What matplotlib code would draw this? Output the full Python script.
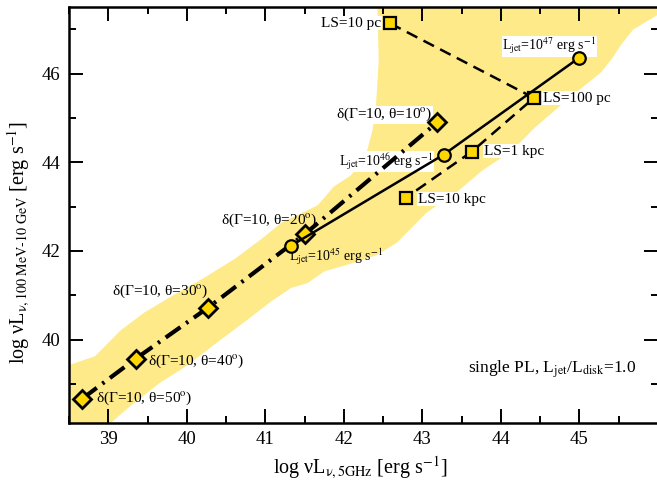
import matplotlib
matplotlib.use("Agg")
import matplotlib.pyplot as plt
from matplotlib.patches import Polygon

plt.rcParams["font.family"] = ["Liberation Serif", "DejaVu Serif"]
plt.rcParams["mathtext.fontset"] = "stix"
plt.rcParams["lines.scale_dashes"] = False

# yellow region covered by the model runs (outline in log L units)
cloud_x = [38.40, 38.40, 38.85, 39.18, 39.48, 39.85, 40.23, 40.64, 40.98, 41.23,
           41.40, 41.69, 41.90, 42.11, 42.30, 42.40, 42.44, 42.48, 42.46, 46.00,
           46.00, 45.66, 45.50, 45.38, 45.25, 45.04, 44.82, 44.66, 44.41, 44.12,
           43.74, 43.44, 43.03, 42.65, 42.40, 42.02, 41.74, 41.52, 41.31, 41.06,
           40.73, 40.36, 39.98, 39.64, 39.23, 38.90]
cloud_y = [38.00, 39.30, 39.57, 40.16, 40.56, 40.95, 41.33, 41.78, 42.23, 42.59,
           42.73, 42.98, 43.41, 43.65, 44.04, 44.71, 45.17, 46.29, 47.60, 47.60,
           47.40, 47.04, 46.68, 46.36, 46.07, 45.77, 45.46, 45.21, 44.83, 44.31,
           43.86, 43.41, 42.91, 42.23, 41.96, 41.74, 41.60, 41.33, 41.22, 40.92,
           40.47, 39.98, 39.46, 39.08, 38.51, 38.00]

# jet power sequence
ljet_x = [41.33, 43.27, 45.00]
ljet_y = [42.12, 44.17, 46.36]
ljet_lab = ["45", "46", "47"]

# linear size sequence
ls_x = [42.59, 44.42, 43.63, 42.79]
ls_y = [47.13, 45.45, 44.24, 43.20]
ls_lab = ["LS=10 pc", "LS=100 pc", "LS=1 kpc", "LS=10 kpc"]

# Doppler factor sequence, Gamma=10
dop_x = [38.67, 39.35, 40.27, 41.51, 43.19]
dop_y = [38.67, 39.57, 40.72, 42.39, 44.90]
dop_theta = [50, 40, 30, 20, 10]

fig = plt.figure(figsize=(6.57, 4.82), dpi=100)
ax = fig.add_axes([0.105, 0.1224, 0.8965, 0.8631])

ax.add_patch(Polygon(list(zip(cloud_x, cloud_y)), closed=True, fc="#FEEA88",
                     ec="#FEEA88", lw=4, joinstyle="round", zorder=1))

ax.plot(dop_x, dop_y, color="black", lw=3.0, dashes=(13, 5, 1.8, 5),
        marker="D", ms=9, mfc="#FFD700", mec="black", mew=2, zorder=3)
ax.plot(ls_x, ls_y, color="black", lw=1.8, dashes=(8.5, 5),
        marker="s", ms=8, mfc="#FFD700", mec="black", mew=1.6, zorder=3)
ax.plot(ljet_x, ljet_y, color="black", lw=1.8,
        marker="o", ms=9, mfc="#FFD700", mec="black", mew=1.6, zorder=4)

box = dict(fc="white", ec="none", pad=0.3)
fs = 11
fj = 10

# LS labels
ax.text(42.48, 47.13, ls_lab[0], ha="right", va="center", fontsize=fs, bbox=box, zorder=2)
ax.text(44.53, 45.44, ls_lab[1], ha="left", va="center", fontsize=fs, bbox=box, zorder=2)
ax.text(43.78, 44.25, ls_lab[2], ha="left", va="center", fontsize=fs, bbox=box, zorder=2)
ax.text(42.94, 43.17, ls_lab[3], ha="left", va="center", fontsize=fs, bbox=box, zorder=2)

# jet power labels
def ljet_text(p):
    return r"L$_{\rm jet}$=10$^{%s}$ erg s$^{-1}$" % p

ax.text(44.02, 46.62, ljet_text(ljet_lab[2]), ha="left", va="center", fontsize=fj, bbox=box, zorder=2)
ax.text(41.94, 44.02, ljet_text(ljet_lab[1]), ha="left", va="center", fontsize=fj, bbox=box, zorder=2)
ax.text(41.30, 41.86, ljet_text(ljet_lab[0]), ha="left", va="center", fontsize=fj, zorder=2)

# Doppler factor labels
def dop_text(t):
    return "δ(Γ=10, θ=%d$^{\\rm o}$)" % t

ax.text(43.13, 45.07, dop_text(dop_theta[4]), ha="right", va="center", fontsize=fs, bbox=box, zorder=2)
ax.text(40.43, 42.70, dop_text(dop_theta[3]), ha="left", va="center", fontsize=fs, zorder=2)
ax.text(39.05, 41.08, dop_text(dop_theta[2]), ha="left", va="center", fontsize=fs, zorder=2)
ax.text(39.51, 39.50, dop_text(dop_theta[1]), ha="left", va="center", fontsize=fs, zorder=2)
ax.text(38.85, 38.67, dop_text(dop_theta[0]), ha="left", va="center", fontsize=fs, zorder=2)

ax.text(43.58, 39.33, r"single PL, L$_{\rm jet}$/L$_{\rm disk}$=1.0",
        ha="left", va="center", fontsize=12.5)

ax.set_xlim(38.5, 45.9)
ax.set_ylim(38.12, 47.5)
ax.set_xticks([39, 40, 41, 42, 43, 44, 45])
ax.set_xticks([38.5 + 0.5 * i for i in range(16)], minor=True)
ax.set_yticks([40, 42, 44, 46])
ax.set_yticks([39, 41, 43, 45, 47], minor=True)
ax.tick_params(which="both", direction="in", top=True, right=True, width=1.4,
               labelsize=13.5, pad=6)
ax.tick_params(which="major", length=10)
ax.tick_params(which="minor", length=5)
for sp in ax.spines.values():
    sp.set_linewidth(1.8)

ax.set_xlabel("log νL$_{\\rm ν,5GHz}$ [erg s$^{-1}$]", fontsize=14.5)
ax.set_ylabel("log νL$_{\\rm ν,100\\ MeV\\text{-}10\\ GeV}$ [erg s$^{-1}$]", fontsize=14.5)
ax.xaxis.set_label_coords(0.494, -0.075)
ax.yaxis.set_label_coords(-0.062, 0.433)
ax.yaxis.label.set_va("bottom")

fig.savefig("out.png", dpi=100)
